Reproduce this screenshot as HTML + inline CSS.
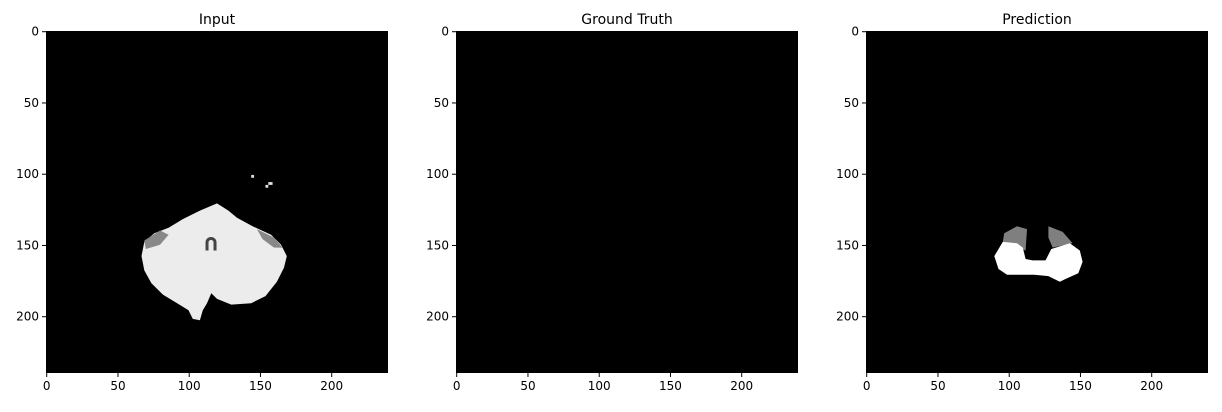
<!DOCTYPE html>
<html><head><meta charset="utf-8"><style>
body{margin:0;background:#fff;font-family:"Liberation Sans","DejaVu Sans",sans-serif}
svg text{font-family:"DejaVu Sans","Liberation Sans",sans-serif;font-size:12px;fill:#000}
</style></head><body>
<svg id="fig" width="1222" height="407"></svg>
<script>
const panelTitles = ["Input", "Ground Truth", "Prediction"];
const xTicks = [0, 50, 100, 150, 200];
const yTicks = [0, 50, 100, 150, 200];
const imgSize = 240;
// shapes in data (pixel) coordinates
const inputBlob = [[120,121],[128,126],[134,131],[145,137],[158,143],[165,150],[169,158],[167,166],[162,176],[154,186],[144,191],[130,192],[120,188],[116,184],[113,191],[110,196],[108,203],[103,202],[100,196],[92,191],[82,185],[74,177],[69,168],[67,158],[69,148],[76,142],[86,138],[96,132],[108,126]];
const inputDark = [[[69,147],[80,140],[86,143],[80,150],[70,153]],[[148,139],[160,145],[166,152],[160,152],[152,146]]];
const inputSpots = [[144,101,2,2],[156,106,3,2],[154,108,2,2]];
const predGray = [[[97,142],[106,137],[113,139],[112,154],[103,151],[96,148]],[[128,137],[138,141],[145,149],[131,152],[128,145]]];
const predWhite = [[96,148],[106,149],[110,152],[112,160],[117,161],[126,161],[130,153],[143,149],[150,154],[152,162],[149,170],[140,174],[136,176],[128,172],[118,171],[110,171],[99,171],[93,167],[90,158]];
const panelLeft = [46, 456, 866];
const top0 = 31, size = 342, sc = size / imgSize;
const svg = document.getElementById('fig');
const NS = 'http://www.w3.org/2000/svg';
function mk(t, a, p) { const e = document.createElementNS(NS, t); for (const k in a) e.setAttribute(k, a[k]); (p || svg).appendChild(e); return e; }
function poly(pts, ox) { return pts.map(p => (ox + p[0] * sc).toFixed(1) + ',' + (top0 + p[1] * sc).toFixed(1)).join(' '); }
panelLeft.forEach((ox, i) => {
  const g = mk('g', {});
  
  
  const r = mk('rect', { x: ox, y: top0, width: size, height: size, fill: '#000' }, g);
  
  
  if (i === 0) {
    const b = mk('polygon', { points: poly(inputBlob, ox), fill: '#ececec' }, g);
    
    
    inputDark.forEach(d => { const e = mk('polygon', { points: poly(d, ox), fill: '#888' }, g);   });
    const a = mk('path', { d: `M${ox+113*sc},${top0+154*sc} v-8 a4 4 0 0 1 8 0 v8`, stroke: '#444', 'stroke-width': 3, fill: 'none' }, g);
    
    
    inputSpots.forEach(s => { const e = mk('rect', { x: ox + s[0] * sc, y: top0 + s[1] * sc, width: s[2] * sc, height: s[3] * sc, fill: '#ddd' }, g);   });
  }
  if (i === 2) {
    predGray.forEach(d => { const e = mk('polygon', { points: poly(d, ox), fill: '#7f7f7f' }, g);   });
    const w = mk('polygon', { points: poly(predWhite, ox), fill: '#fff' }, g);
    
    
  }
  const t = mk('text', { x: ox + size / 2, y: top0 - 7, 'text-anchor': 'middle', style: 'font-size:14px' }, g);
  t.textContent = panelTitles[i];
  
  
  xTicks.forEach(v => {
    const x = ox + (v + 0.5) * sc;
    mk('line', { x1: x, x2: x, y1: top0 + size, y2: top0 + size + 4, stroke: '#000' }, g);
    const l = mk('text', { x: x, y: top0 + size + 17, 'text-anchor': 'middle' }, g);
    l.textContent = v;
    
    
  });
  yTicks.forEach(v => {
    const y = top0 + (v + 0.5) * sc;
    mk('line', { x1: ox - 4, x2: ox, y1: y, y2: y, stroke: '#000' }, g);
    const l = mk('text', { x: ox - 7, y: y + 4, 'text-anchor': 'end' }, g);
    l.textContent = v;
    
    
  });
});
</script>
</body></html>
